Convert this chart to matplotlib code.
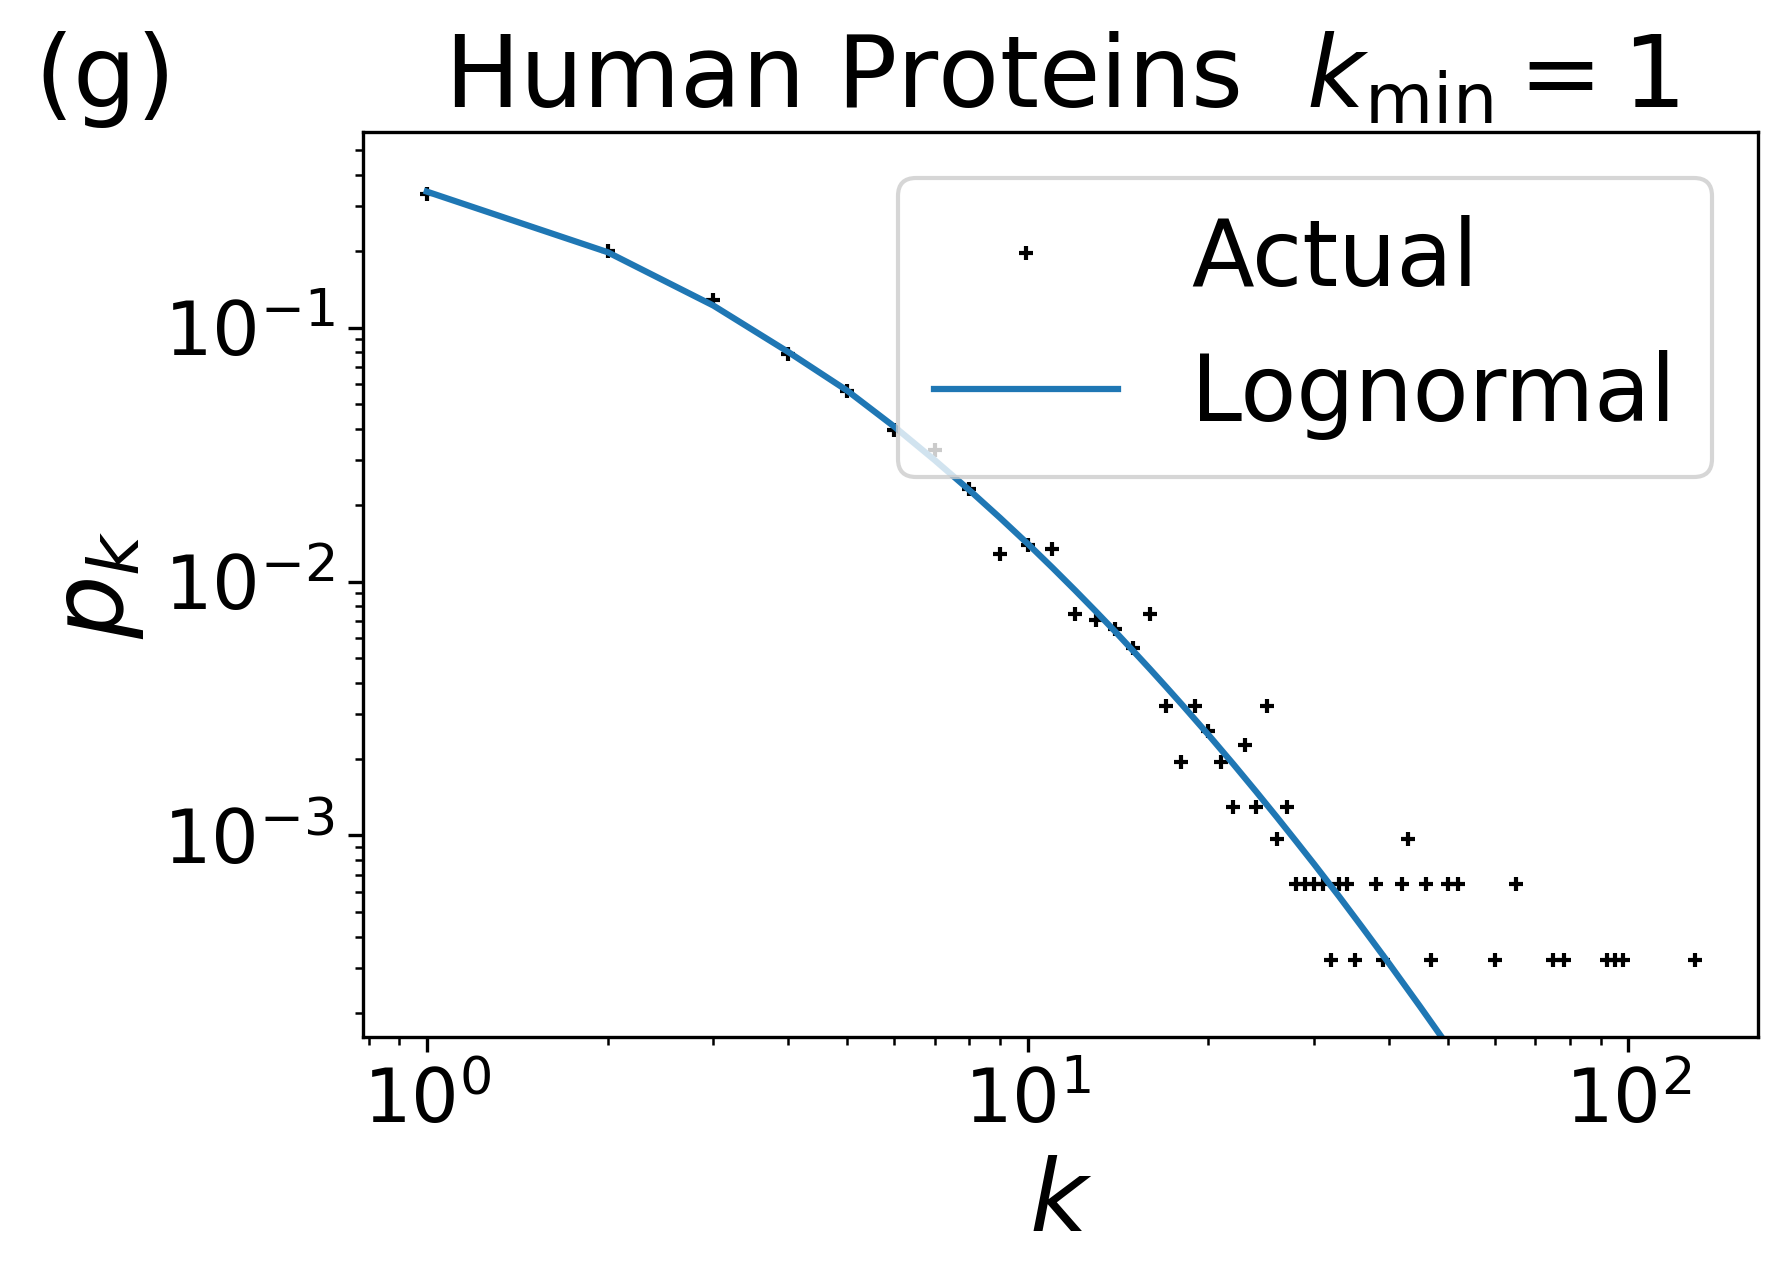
import matplotlib
matplotlib.use("Agg")
import matplotlib.pyplot as plt

# degree distribution (p_k)
k_actual = [1, 2, 3, 4, 5, 6, 7, 8, 9, 10, 11, 12, 13, 14, 15, 16,
            17, 18, 19, 20, 21, 22, 23, 24, 25, 26, 27,
            28, 29, 30, 31, 33, 34, 38, 42, 46, 50, 52, 65,
            43,
            32, 35, 39, 47, 60, 75, 78, 92, 95, 98, 129]
p_actual = [0.336, 0.200, 0.128, 0.0788, 0.0560, 0.0394, 0.0330, 0.0232,
            0.0128, 0.0139, 0.0134, 0.00745, 0.00706, 0.00650, 0.00545, 0.00745,
            0.00324, 0.00194, 0.00324, 0.00259, 0.00194, 0.00129, 0.00227,
            0.00129, 0.00324, 0.00097, 0.00129,
            0.000647, 0.000647, 0.000647, 0.000647, 0.000647, 0.000647,
            0.000647, 0.000647, 0.000647, 0.000647, 0.000647, 0.000647,
            0.00097,
            0.000324, 0.000324, 0.000324, 0.000324, 0.000324, 0.000324,
            0.000324, 0.000324, 0.000324, 0.000324, 0.000324]

# lognormal fit curve
k_fit = [1, 2, 3, 4, 5, 6, 7, 8, 9, 10, 11, 12, 13, 14, 15, 16, 17, 18, 19,
         20, 22, 24, 26, 28, 30, 33, 36, 40, 45, 50]
p_fit = [0.343, 0.198, 0.122, 0.0800, 0.0566, 0.0407, 0.0301, 0.0229,
         0.0178, 0.0141, 0.01133, 0.00923, 0.00761, 0.00634, 0.00532,
         0.00451, 0.00385, 0.00331, 0.00286, 0.00249, 0.00191, 0.00149,
         0.00118, 0.000947, 0.000770, 0.000575, 0.000437, 0.000312,
         0.000212, 0.000149]

fig = plt.figure(figsize=(1788 / 300, 1283 / 300), dpi=300)
ax = fig.add_axes([0.2032, 0.1920, 0.7802, 0.7051])

ax.plot(k_actual, p_actual, '+', color='black', ms=3.5, mew=1.0, label='Actual')
ax.plot(k_fit, p_fit, '-', color='#1f77b4', lw=1.5, label='Lognormal')

ax.set_xscale('log')
ax.set_yscale('log')
ax.set_ylim(1.614e-4, 0.5885)

ax.set_xlabel('$k$', fontsize=24)
ax.set_ylabel('$p_k$', fontsize=24)
ax.tick_params(axis='both', which='major', labelsize=18)
ax.set_title('Human Proteins  $k_{\\min} = 1$', fontsize=24)
fig.text(0.019, 0.9166, '(g)', fontsize=24, va='baseline', ha='left')

ax.legend(loc='upper right', fontsize=22)

fig.savefig('out.png', dpi=300)
